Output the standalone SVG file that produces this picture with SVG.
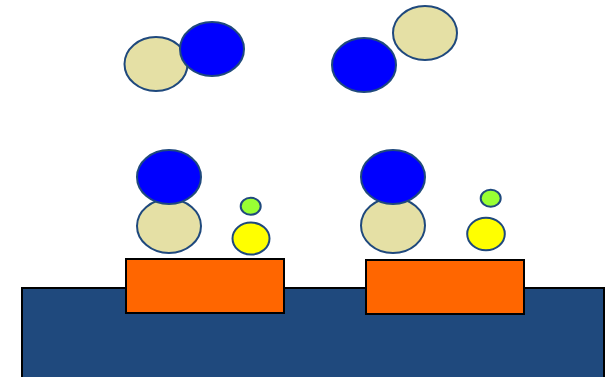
<svg xmlns="http://www.w3.org/2000/svg" width="614" height="377" viewBox="0 0 614 377">
<style>
.ball{stroke:#1F497D;stroke-width:2}
.tan{fill:#E5E0A5}
.blue{fill:#0000FF}
.green{fill:#99FF33}
.yellow{fill:#FFFF00}
.pad{fill:#FF6600;stroke:#000;stroke-width:2}
</style>
<rect width="614" height="377" fill="#FFFFFF"/>
<g id="substrate"><rect x="22" y="288" width="582" height="92" fill="#1F497D" stroke="#000" stroke-width="2"/></g>
<g id="pad-left"><rect class="pad" x="126" y="259" width="158" height="54"/></g>
<g id="pad-right"><rect class="pad" x="366" y="260" width="158" height="54"/></g>
<g id="pair-top-left">
<ellipse class="ball tan" cx="156" cy="64" rx="31.5" ry="27"/>
<ellipse class="ball blue" cx="212" cy="49" rx="32" ry="27"/>
</g>
<g id="pair-top-right">
<ellipse class="ball blue" cx="364" cy="65" rx="32" ry="27"/>
<ellipse class="ball tan" cx="425" cy="33" rx="32" ry="27"/>
</g>
<g id="stack-left">
<ellipse class="ball tan" cx="169" cy="226" rx="32" ry="27"/>
<ellipse class="ball blue" cx="169" cy="177" rx="32" ry="27"/>
</g>
<g id="stack-right">
<ellipse class="ball tan" cx="393" cy="225.5" rx="32" ry="27.5"/>
<ellipse class="ball blue" cx="393" cy="177" rx="32" ry="27"/>
</g>
<g id="small-left">
<ellipse class="ball green" cx="250.7" cy="206.3" rx="10" ry="8.5"/>
<ellipse class="ball yellow" cx="251" cy="238.5" rx="18.5" ry="16"/>
</g>
<g id="small-right">
<ellipse class="ball green" cx="490.7" cy="198.3" rx="10" ry="8.5"/>
<ellipse class="ball yellow" cx="486" cy="234" rx="18.8" ry="16.2"/>
</g>
<g id="connectors"/>
</svg>
